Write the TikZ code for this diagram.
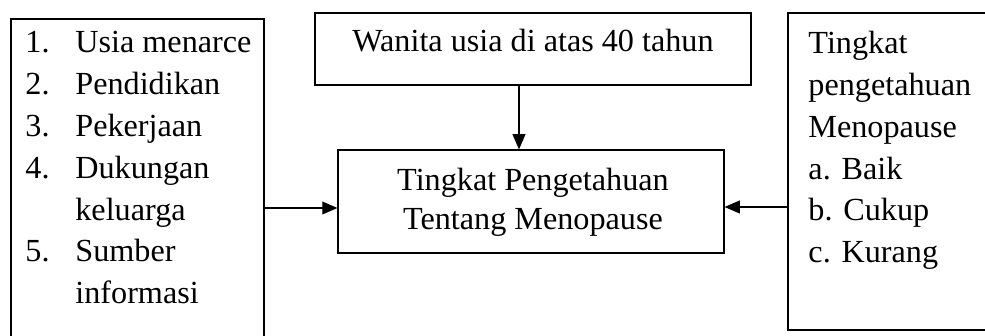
\documentclass[tikz,border=0pt]{standalone}
\usepackage{fontspec}
\setmainfont{Liberation Serif}
\usetikzlibrary{arrows.meta,fit}
\begin{document}
\begin{tikzpicture}[x=0.4286pt, y=-0.4286pt, font=\fontsize{13.8}{18}\selectfont,
        box/.style={draw, line width=0.5pt, inner sep=0pt},
        txt/.style={inner sep=0pt, align=left, anchor=base west},
        arr/.style={-{Triangle[length=6.5pt,width=5.5pt]}, line width=0.5pt}]
    \clip (0,0) rectangle (985,336);
    % boxes
    \node[box, fit={(11,19) (264,345)}] (faktor) {};
    \node[box, fit={(315,13) (751,85)}] (wanita) {};
    \node[box, fit={(338,150) (724,253)}] (tingkat) {};
    \node[box, fit={(788,13) (995,330)}] (kategori) {};
    % texts (base anchor sits on the last line)
    \node[txt] (faktortxt) at (25,304) {\makebox[21.4pt][l]{1.}Usia menarce\\
        \makebox[21.4pt][l]{2.}Pendidikan\\
        \makebox[21.4pt][l]{3.}Pekerjaan\\
        \makebox[21.4pt][l]{4.}Dukungan\\
        \hspace*{21.4pt}keluarga\\
        \makebox[21.4pt][l]{5.}Sumber\\
        \hspace*{21.4pt}informasi};
    \node[inner sep=0pt, anchor=base] (wanitatxt) at (533,52) {Wanita usia di atas 40 tahun};
    \node[inner sep=0pt, anchor=base, align=center, font=\fontsize{13.8}{17.1}\selectfont] (tingkattxt) at (533,230) {Tingkat Pengetahuan\\Tentang Menopause};
    \node[txt] (kategoritxt) at (808,263) {Tingkat\\pengetahuan\\Menopause\\a. Baik\\b. Cukup\\c. Kurang};
    % arrows
    \coordinate (dx) at (519,0);
    \coordinate (ly) at (0,208);
    \coordinate (ry) at (0,207);
    \draw[arr] (dx |- wanita.south) -- (dx |- tingkat.north);
    \draw[arr] (ly -| faktor.east) -- (ly -| tingkat.west);
    \draw[arr] (ry -| kategori.west) -- (ry -| tingkat.east);
\end{tikzpicture}
\end{document}
